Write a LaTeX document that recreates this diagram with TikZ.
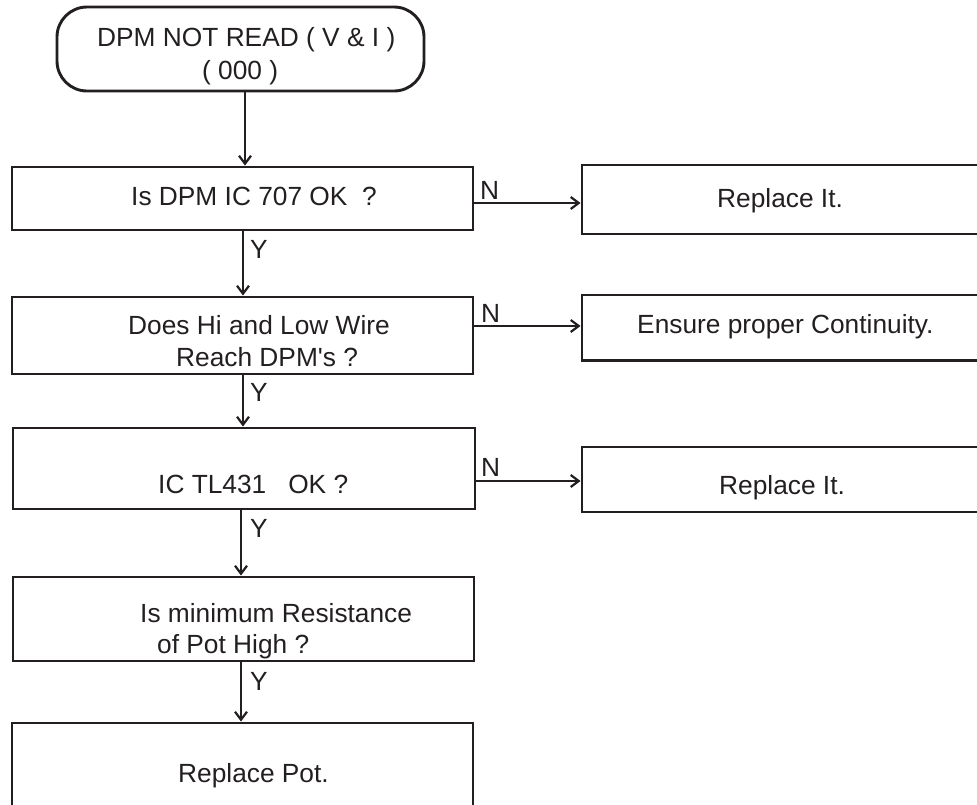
\documentclass[tikz,border=0pt]{standalone}
\usepackage{fontspec}
\newfontfamily\lsans{Liberation Sans}
\usetikzlibrary{arrows.meta}
\definecolor{ink}{HTML}{231F20}
\begin{document}
\begin{tikzpicture}[x=1pt,y=-1pt,
  box/.style={draw=ink,line width=2.9pt,rectangle,inner sep=0pt,anchor=center},
  txt/.style={inner sep=0pt,anchor=base west,text=ink,font=\lsans\fontsize{26.3}{31}\selectfont},
  arr/.style={draw=ink,line width=2.2pt,-{Straight Barb[length=8pt,width=12pt,line width=2.2pt]}}]
\useasboundingbox (0,0) rectangle (977,804);
\clip (0,0) rectangle (977,804);
% boxes
\node[box,rounded corners=30pt,minimum width=367pt,minimum height=84pt] (start) at (240.5,49) {};
\node[box,minimum width=461pt,minimum height=63pt] (b1) at (242.5,198.5) {};
\node[box,minimum width=461pt,minimum height=77pt] (b2) at (242.5,335.5) {};
\node[box,minimum width=462pt,minimum height=81pt] (b3) at (244,468.5) {};
\node[box,minimum width=461pt,minimum height=84pt] (b4) at (243.5,619) {};
\node[box,minimum width=461pt,minimum height=137pt] (b5) at (242.5,791.5) {};
\node[box,minimum width=408pt,minimum height=69pt] (r1) at (786,199.5) {};
\node[box,minimum width=408pt,minimum height=65.5pt] (r2) at (786,327.75) {};
\node[box,minimum width=408pt,minimum height=65pt] (r3) at (786,479.5) {};
% texts
\node[txt] (t0a) at (97,46) {DPM NOT READ ( V \& I )};
\node[txt] (t0b) at (202,79) {( 000 )};
\node[txt] (t1) at (131,205) {Is DPM IC 707 OK\ \ ?};
\node[txt] (t2a) at (128,334) {Does Hi and Low Wire};
\node[txt] (t2b) at (176,366) {Reach DPM's ?};
\node[txt] (t3) at (158,493) {IC TL431\ \ \ OK ?};
\node[txt] (t4a) at (140,622) {Is minimum Resistance};
\node[txt] (t4b) at (157,653) {of Pot High ?};
\node[txt] (t5) at (178,782) {Replace Pot.};
\node[txt] (tr1) at (717,207) {Replace It.};
\node[txt] (tr2) at (637,333) {Ensure proper Continuity.};
\node[txt] (tr3) at (719,494) {Replace It.};
% connector guides
\coordinate (x0) at (245,0);
\coordinate (x1) at (243,0);
\coordinate (x2) at (243,0);
\coordinate (x3) at (241,0);
\coordinate (x4) at (241,0);
\coordinate (y1) at (0,203);
\coordinate (y2) at (0,326);
\coordinate (y3) at (0,481);
% vertical connectors
\draw[arr] (start.south -| x0) -- (b1.north -| x0);
\draw[arr] (b1.south -| x1) -- (b2.north -| x1);
\draw[arr] (b2.south -| x2) -- (b3.north -| x2);
\draw[arr] (b3.south -| x3) -- (b4.north -| x3);
\draw[arr] (b4.south -| x4) -- (b5.north -| x4);
% horizontal connectors
\draw[arr] (b1.east |- y1) -- (r1.west |- y1);
\draw[arr] (b2.east |- y2) -- (r2.west |- y2);
\draw[arr] (b3.east |- y3) -- (r3.west |- y3);
% labels
\node[txt] (y1l) at (250,258) {Y};
\node[txt] (y2l) at (250,401) {Y};
\node[txt] (y3l) at (250,537) {Y};
\node[txt] (y4l) at (250,690) {Y};
\node[txt] (n1) at (480,199) {N};
\node[txt] (n2) at (481,322) {N};
\node[txt] (n3) at (481,476) {N};
\end{tikzpicture}
\end{document}
